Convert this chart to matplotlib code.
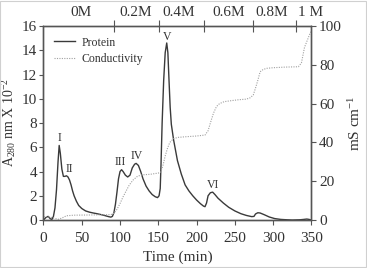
import matplotlib
matplotlib.use("Agg")
import matplotlib.pyplot as plt
from matplotlib.lines import Line2D
from matplotlib.patches import Rectangle
import matplotlib.transforms as mtransforms

plt.rcParams['font.family'] = ['Liberation Serif', 'DejaVu Serif']
plt.rcParams['mathtext.fontset'] = 'custom'
plt.rcParams['mathtext.rm'] = 'Liberation Serif'
plt.rcParams['mathtext.it'] = 'Liberation Serif:italic'

# Protein absorbance (A280 x 10^-2) vs time (min)
protein_t = [0, 3, 6, 9, 11, 13, 15, 17, 19, 20.5, 22, 24, 26, 28, 30, 32, 34, 36, 38, 40,
             43, 46, 50, 55, 60, 65, 70, 75, 80, 85, 88, 90, 92, 94, 96, 98, 100, 102, 104,
             107, 110, 113, 116, 119, 121, 124, 127, 130, 134, 138, 142, 146, 149, 151, 152.5,
             153.5, 155, 157, 159, 161, 162.5, 164, 165.5, 167, 170, 175, 180, 185, 190, 195,
             200, 205, 209, 211, 213, 215, 218, 221, 224, 228, 235, 242, 250, 258, 265, 272,
             275, 277, 280, 283, 288, 295, 302, 310, 318, 325, 335, 340, 344, 347, 350]
protein_a = [0.0, 0.2, 0.3, 0.1, 0.05, 0.3, 1.0, 2.5, 4.8, 6.15, 5.5, 4.2, 3.6, 3.6, 3.65, 3.55, 3.3, 2.9, 2.4, 2.0,
             1.55, 1.2, 0.95, 0.75, 0.65, 0.58, 0.52, 0.45, 0.37, 0.28, 0.24, 0.3, 0.6, 1.3, 2.3, 3.4, 4.0, 4.15, 4.0,
             3.7, 3.55, 3.7, 4.3, 4.6, 4.67, 4.5, 4.0, 3.4, 2.8, 2.4, 2.1, 1.92, 1.85, 2.0, 2.6,
             4.5, 8.0, 11.5, 13.8, 14.6, 13.8, 11.5, 9.3, 7.9, 6.6, 4.9, 3.8, 2.9, 2.4, 2.0,
             1.65, 1.35, 1.15, 1.1, 1.4, 2.0, 2.25, 2.3, 2.1, 1.8, 1.4, 1.05, 0.75, 0.52, 0.38, 0.28,
             0.3, 0.5, 0.6, 0.58, 0.45, 0.25, 0.12, 0.05, 0.02, 0.0, 0.02, 0.05, 0.08, 0.05, 0.0]

# Conductivity (mS/cm) vs time (min)
cond_t = [0, 8, 15, 20, 25, 30, 40, 60, 80, 88, 92, 96, 100, 104, 108, 112, 117, 122, 126, 130,
          140, 150, 153, 156, 159, 162, 165, 170, 176, 185, 200, 211, 215, 218, 222, 226, 230, 236,
          245, 255, 265, 270, 274, 277, 280, 283, 287, 292, 300, 315, 333, 337, 341, 345, 348, 350]
cond_v = [1.8, 1.6, 0.8, 0.4, 1.2, 2.2, 2.5, 2.6, 2.7, 2.8, 3.5, 5.5, 8.5, 12, 15, 18, 20.6, 22.3, 23, 23.3,
          23.6, 24.2, 24.6, 28, 33, 37, 40, 42, 42.6, 42.9, 43.3, 43.8, 46, 50, 55, 58.5, 60, 61,
          61.5, 62, 62.3, 63, 64.4, 68, 72, 76.4, 77.6, 78.2, 78.5, 78.8, 79, 81, 89, 93, 96, 97.5]

x_ticks = [0, 50, 100, 150, 200, 250, 300, 350]
left_ticks = [0, 2, 4, 6, 8, 10, 12, 14, 16]
right_ticks = [0, 20, 40, 60, 80, 100]
top_tick_pos = [92, 150.5, 209.5, 274, 330]
top_labels = ['0M', '0.2M', '0.4M', '0.6M', '0.8M', '1 M']
top_label_pos = [48.6, 121, 177, 242, 298.4, 349]
peak_labels = ['I', 'II', 'III', 'IV', 'V', 'VI']
peak_t = [21.5, 33.7, 100.8, 121.7, 160.9, 221.8]
peak_a = [6.8, 4.2, 4.75, 5.3, 15.1, 2.9]

line_c = '#3a3a3a'
spine_c = '#555555'
text_c = '#333333'

fig = plt.figure(figsize=(3.67, 2.68), dpi=100)
ax = fig.add_axes([0.1185, 0.179, 0.730, 0.724])
ax2 = ax.twinx()
ax3 = ax.twiny()

ax.plot(protein_t, protein_a, color=line_c, lw=1.0)
ax2.plot(cond_t, cond_v, color='#a0a0a0', lw=0.8, ls=(0, (1, 1.2)))

ax.set_xlim(0, 350)
ax.set_ylim(0, 16)
ax2.set_ylim(0, 100)
ax3.set_xlim(0, 350)

ax.set_xticks(x_ticks)
ax.set_yticks(left_ticks)
ax2.set_yticks(right_ticks)
ax3.set_xticks(top_tick_pos)
ax3.set_xticklabels([''] * len(top_tick_pos))

for a in (ax, ax2, ax3):
    for s in a.spines.values():
        s.set_color(spine_c)
        s.set_linewidth(0.9)

ax.tick_params(axis='x', direction='out', length=3.5, width=0.8, colors=spine_c,
               labelcolor=text_c, labelsize=11, pad=5)
ax.tick_params(axis='y', direction='out', length=3, width=0.8, colors=spine_c,
               labelcolor=text_c, labelsize=11, pad=1.5)
ax2.tick_params(axis='y', direction='out', length=3.5, width=0.8, colors=spine_c,
                labelcolor=text_c, labelsize=11, pad=2)
ax3.tick_params(axis='x', direction='inout', length=9, width=0.8, colors=spine_c)

ax.set_xlabel('Time (min)', fontsize=11, color=text_c, labelpad=4)
ax.set_ylabel(r'A$_{280}$ nm X 10$^{-2}$', fontsize=10, color=text_c, labelpad=3)
ax2.set_ylabel(r'mS cm$^{-1}$', fontsize=11, color=text_c, labelpad=4)

trans = mtransforms.blended_transform_factory(ax.transData, ax.transAxes)
for lab, xp in zip(top_labels, top_label_pos):
    ax.text(xp, 1.07, lab, transform=trans, ha='center', va='center', fontsize=11, color=text_c)

for lab, tx, ty in zip(peak_labels, peak_t, peak_a):
    ax.text(tx, ty, lab, ha='center', va='center', fontsize=8.5, color=text_c)

handles = [Line2D([], [], color=line_c, lw=1.0),
           Line2D([], [], color='#a0a0a0', lw=0.8, ls=(0, (1, 1.2)))]
ax.legend(handles, ['Protein', 'Conductivity'], loc='upper left', frameon=False, fontsize=8.5,
          handlelength=1.8, handletextpad=0.5, labelspacing=0.35,
          bbox_to_anchor=(0.0, 1.0), borderaxespad=0.5, labelcolor=text_c)

fig.patches.append(Rectangle((0.001, 0.002), 0.997, 0.996, transform=fig.transFigure,
                             fill=False, edgecolor='#d0d0d0', lw=0.8))

fig.savefig('out.png', dpi=100)
